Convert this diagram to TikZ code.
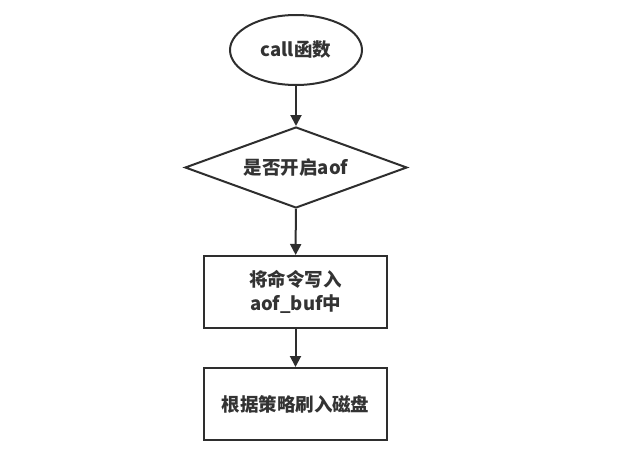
\documentclass[tikz,border=0pt]{standalone}
\usepackage{fontspec}
\setmainfont{Noto Sans CJK SC}
\usetikzlibrary{shapes.geometric,arrows.meta}
\begin{document}
\begin{tikzpicture}[x=1pt,y=-1pt,
  every node/.style={font=\fontsize{18.5}{24}\selectfont\bfseries, text=black!80, draw=black!82, line width=2pt},
  startnode/.style={ellipse, minimum width=132pt, minimum height=70pt, inner sep=0pt},
  decnode/.style={diamond, minimum width=222pt, minimum height=81pt, inner sep=0pt, aspect=2.7},
  procnode/.style={rectangle, minimum width=183pt, minimum height=72pt, inner sep=0pt, align=center},
  conn/.style={draw=black!82, line width=2pt, -{Triangle[length=11pt,width=11pt]}}]
\useasboundingbox (0,0) rectangle (633,471);
\node[startnode] (s) at (296,50) {call函数};
\node[decnode] (d) at (296,167.5) {是否开启aof};
\node[procnode] (p1) at (295.5,292) {将命令写入\\aof\_buf中};
\node[procnode] (p2) at (295.5,404) {根据策略刷入磁盘};
\draw[conn] (s) -- (d);
\draw[conn] (d) -- (p1);
\draw[conn] (p1) -- (p2);
\end{tikzpicture}
\end{document}
